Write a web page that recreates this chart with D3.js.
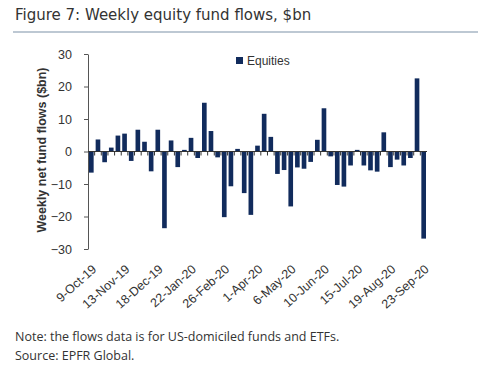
<!DOCTYPE html>
<html>
<head>
<meta charset="utf-8">
<script src="https://cdn.jsdelivr.net/npm/d3@7"></script>
<style>
  html, body { margin: 0; padding: 0; background: #fff; }
  svg { display: block; }
</style>
</head>
<body>
<svg id="chart" width="494" height="368"></svg>
<script>
// weekly flows, $bn, 9-Oct-19 .. 23-Sep-20
const weeks = [
  '9-Oct-19','16-Oct-19','23-Oct-19','30-Oct-19','6-Nov-19','13-Nov-19','20-Nov-19','27-Nov-19',
  '4-Dec-19','11-Dec-19','18-Dec-19','25-Dec-19','1-Jan-20','8-Jan-20','15-Jan-20','22-Jan-20',
  '29-Jan-20','5-Feb-20','12-Feb-20','19-Feb-20','26-Feb-20','4-Mar-20','11-Mar-20','18-Mar-20',
  '25-Mar-20','1-Apr-20','8-Apr-20','15-Apr-20','22-Apr-20','29-Apr-20','6-May-20','13-May-20',
  '20-May-20','27-May-20','3-Jun-20','10-Jun-20','17-Jun-20','24-Jun-20','1-Jul-20','8-Jul-20',
  '15-Jul-20','22-Jul-20','29-Jul-20','5-Aug-20','12-Aug-20','19-Aug-20','26-Aug-20','2-Sep-20',
  '9-Sep-20','16-Sep-20','23-Sep-20'
];
const equities = [
  -6.5, 3.7, -3.3, 1.2, 4.9, 5.5, -2.9, 6.7, 3.0, -6.1, 6.7, -23.6, 3.4, -4.8, 0.5, 4.2,
  -2.0, 15.0, 6.3, -1.8, -20.2, -10.7, 0.8, -12.8, -19.5, 1.8, 11.6, 4.5, -6.9, -5.7, -16.9, -4.9,
  -5.3, -3.2, 3.6, 13.3, -1.5, -10.3, -10.8, -4.3, 0.5, -4.3, -5.8, -6.2, 5.9, -4.8, -2.5, -4.3,
  -2.0, 22.5, -26.8
];
const tickLabels = ['9-Oct-19','13-Nov-19','18-Dec-19','22-Jan-20','26-Feb-20','1-Apr-20',
  '6-May-20','10-Jun-20','15-Jul-20','19-Aug-20','23-Sep-20'];
const yTicks = [30, 20, 10, 0, -10, -20, -30];

const NAVY = '#112b5c';
const TXT = '#333';
const ARIAL = 'Liberation Sans, Arial, sans-serif';

const svg = d3.select('#chart');

// title + rule
svg.append('text')
  .attr('x', 15).attr('y', 20)
  .attr('font-family', 'DejaVu Sans, sans-serif')
  .attr('font-size', 15)
  .attr('fill', TXT)
  .text('Figure 7: Weekly equity fund flows, $bn');
svg.append('line')
  .attr('x1', 13).attr('x2', 478).attr('y1', 32).attr('y2', 32)
  .attr('stroke', '#a7b6c4').attr('stroke-width', 1.5);

const x = d3.scaleBand().domain(weeks).range([88, 427]).paddingInner(0.3).paddingOuter(0.15);
const y = d3.scaleLinear().domain([-30, 30]).range([249, 54]);

// y axis
const yAxis = svg.append('g')
  .attr('transform', 'translate(88,0)')
  .call(d3.axisLeft(y).tickValues(yTicks).tickSize(4).tickSizeOuter(0).tickPadding(12));
yAxis.select('.domain').attr('stroke', '#555');
yAxis.selectAll('.tick line').attr('stroke', '#555');
yAxis.selectAll('text')
  .attr('font-family', ARIAL)
  .attr('font-size', 12.5).attr('fill', TXT);

svg.append('text')
  .attr('transform', `translate(46,150) rotate(-90)`)
  .attr('text-anchor', 'middle')
  .attr('font-family', ARIAL)
  .attr('font-size', 12.5).attr('font-weight', 'bold')
  .attr('fill', TXT)
  .text('Weekly net fund flows ($bn)');

// bars
svg.append('g').selectAll('rect')
  .data(equities)
  .join('rect')
  .attr('x', (d, i) => x(weeks[i]))
  .attr('width', x.bandwidth())
  .attr('y', d => y(Math.max(0, d)))
  .attr('height', d => Math.abs(y(d) - y(0)))
  .attr('fill', NAVY);

// zero line with category ticks
const zero = svg.append('g').attr('transform', `translate(0,${y(0)})`);
zero.append('line')
  .attr('x1', 88).attr('x2', 427)
  .attr('stroke', '#333').attr('stroke-width', 1);
zero.selectAll('line.tk')
  .data(weeks.slice(1))
  .join('line')
  .attr('class', 'tk')
  .attr('x1', d => x(d) - x.step() * x.paddingInner() / 2)
  .attr('x2', d => x(d) - x.step() * x.paddingInner() / 2)
  .attr('y1', 0).attr('y2', 4)
  .attr('stroke', '#333');

// x labels along the bottom
const xAxis = svg.append('g')
  .attr('transform', 'translate(0,255)')
  .call(d3.axisBottom(x).tickValues(tickLabels).tickSize(0).tickPadding(0));
xAxis.select('.domain').remove();
xAxis.selectAll('text')
  .attr('font-family', ARIAL)
  .attr('font-size', 12.5).attr('fill', TXT)
  .attr('text-anchor', 'end')
  .attr('y', 0)
  .attr('dy', '0.35em')
  .attr('transform', 'translate(3,12) rotate(-42)');

// legend
svg.append('rect')
  .attr('x', 236).attr('y', 57).attr('width', 7).attr('height', 7)
  .attr('fill', NAVY);
svg.append('text')
  .attr('x', 247).attr('y', 64.5)
  .attr('font-family', ARIAL)
  .attr('font-size', 12).attr('fill', TXT)
  .text('Equities');

// footnotes
const foot = ['Note: the flows data is for US-domiciled funds and ETFs.', 'Source: EPFR Global.'];
svg.append('g').selectAll('text')
  .data(foot)
  .join('text')
  .attr('x', 15)
  .attr('y', (d, i) => 341 + i * 19)
  .attr('font-family', 'Open Sans, sans-serif')
  .attr('font-size', 12.5).attr('fill', TXT)
  .text(d => d);
</script>
</body>
</html>
